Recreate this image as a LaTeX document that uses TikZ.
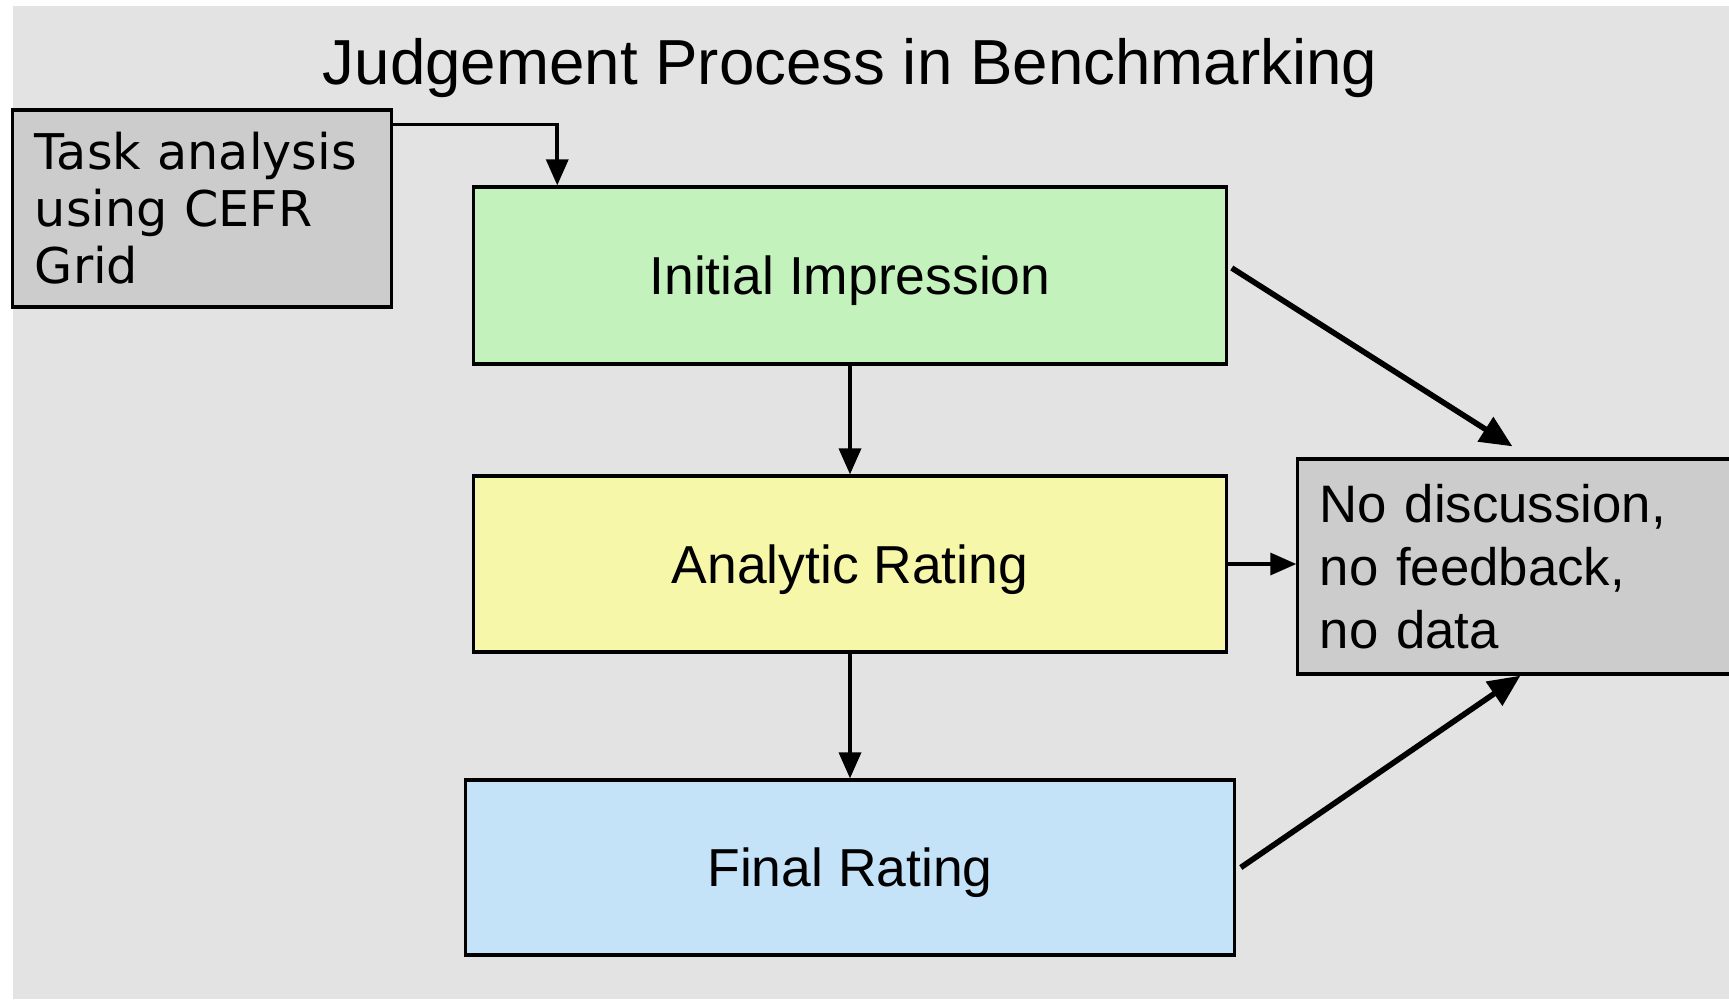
\documentclass[tikz,border=0pt]{standalone}
\usepackage{fontspec}
\setmainfont{Liberation Sans}
\newfontfamily\taskfont{DejaVu Sans}
\usetikzlibrary{arrows.meta}
\definecolor{bgGray}{HTML}{E3E3E3}
\definecolor{boxGray}{HTML}{CCCCCC}
\definecolor{initGreen}{HTML}{C3F2BC}
\definecolor{anaYellow}{HTML}{F7F7AA}
\definecolor{finBlue}{HTML}{C4E2F8}

\begin{document}
\begin{tikzpicture}[x=0.01cm, y=-0.01cm,
  box/.style={draw=black, line width=0.9pt, inner sep=0pt, text depth=0pt,
    font=\fontsize{15.2}{18}\selectfont},
  note/.style={draw=black, line width=0.9pt, inner sep=0pt, fill=boxGray,
    inner xsep=0.22cm, align=left, font=\fontsize{15}{18}\selectfont},
  thinarrow/.style={draw, line width=1pt, -{Triangle[length=0.26cm, width=0.22cm]}},
  thickarrow/.style={draw, line width=1.6pt, -{Triangle[length=0.32cm, width=0.28cm]}}]
  \useasboundingbox (0,0) rectangle (1729,999);
  \clip (0,0) rectangle (1729,999);
  \fill[bgGray] (13,6) rectangle (1729,999);

  % title
  \node[font=\fontsize{18.1}{22}\selectfont, text depth=0pt] (title) at (850,61) {Judgement Process in Benchmarking};

  % main steps
  \node[box, fill=initGreen, minimum width=7.52cm, minimum height=1.77cm] (init) at (850,275.5) {Initial Impression};
  \node[box, fill=anaYellow, minimum width=7.52cm, minimum height=1.76cm] (ana) at (850,564) {Analytic Rating};
  \node[box, fill=finBlue, minimum width=7.68cm, minimum height=1.75cm] (fin) at (850,867.5) {Final Rating};

  % side notes
  \node[note, font=\taskfont\fontsize{14}{16.2}\selectfont, text width=3.34cm, minimum height=1.97cm] (task) at (202,208.5) {Task analysis\\using CEFR\\Grid};
  \node[note, text width=4.16cm, minimum height=2.15cm] (nodisc) at (1528,566.5) {No discussion,\\no feedback,\\no data};

  % connectors
  \draw[thinarrow] ([yshift=-0.16cm]task.north east) -| ([xshift=0.85cm]init.north west);
  \draw[thinarrow] (init.south) -- (ana.north);
  \draw[thinarrow] (ana.south) -- (fin.north);
  \draw[thinarrow] (ana.east) -- (ana.east -| nodisc.west);
  \draw[thickarrow] ([xshift=0.04cm, yshift=0.075cm]init.east) -- ([xshift=2.16cm, yshift=0.11cm]nodisc.north west);
  \draw[thickarrow] ([xshift=0.05cm]fin.east) -- ([xshift=2.24cm]nodisc.south west);
\end{tikzpicture}
\end{document}
